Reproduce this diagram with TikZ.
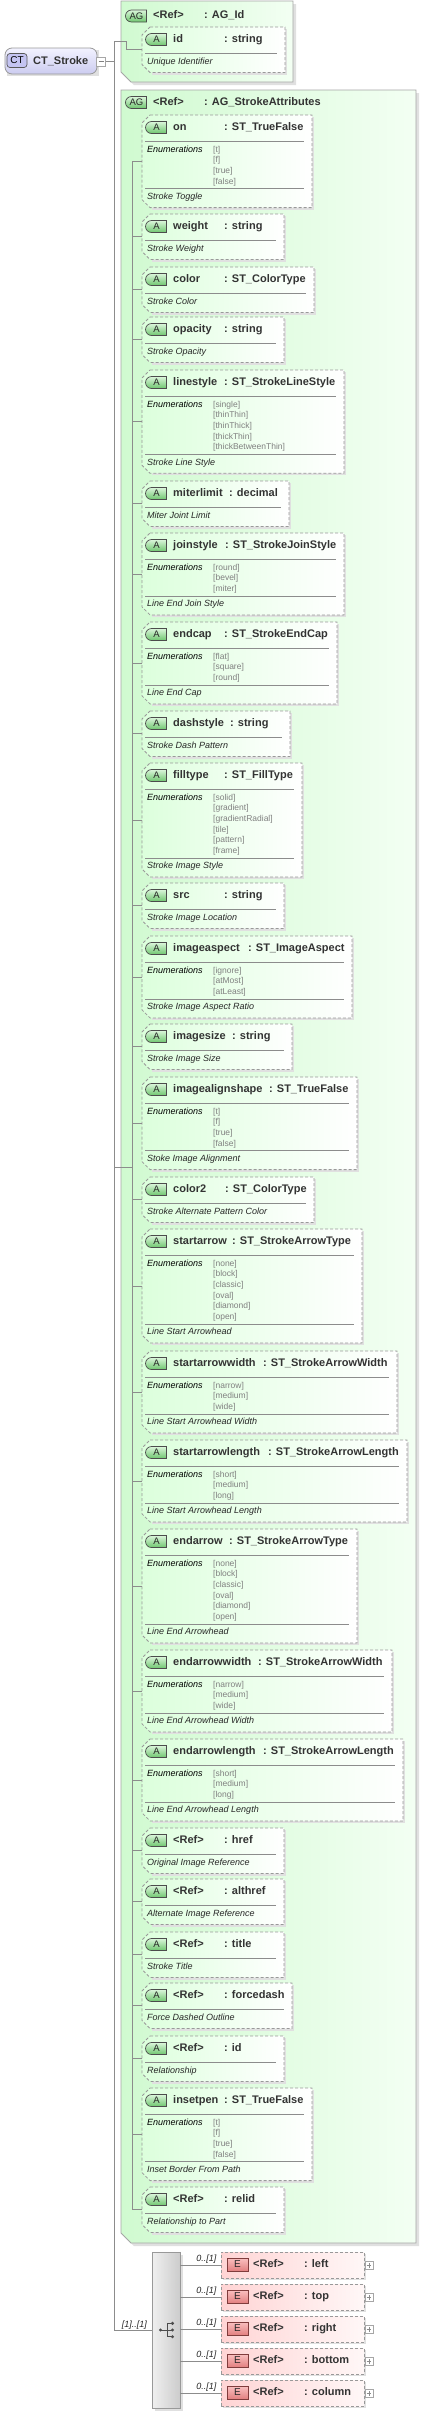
\documentclass[tikz,border=0pt]{standalone}
\usepackage{fontspec}
\setmainfont{Liberation Sans}
\usetikzlibrary{calc,shapes.misc,positioning}

\definecolor{agleft}{RGB}{208,250,208}
\definecolor{agright}{RGB}{243,255,243}
\definecolor{attrleft}{RGB}{220,255,220}
\definecolor{badgetop}{RGB}{218,246,218}
\definecolor{badgebot}{RGB}{110,198,110}
\definecolor{elleft}{RGB}{255,212,212}
\definecolor{elright}{RGB}{255,247,247}
\definecolor{ebadgetop}{RGB}{250,192,192}
\definecolor{ebadgebot}{RGB}{226,128,128}
\definecolor{ebadgeline}{RGB}{128,60,60}
\definecolor{cttop}{RGB}{242,242,255}
\definecolor{ctbot}{RGB}{204,204,240}
\definecolor{ctbadge}{RGB}{196,196,242}

% attribute box: id, top, right, name, colon x, type, no. of enums, enums, doc
\newcommand{\attrbox}[9]{%
  \pgfmathsetmacro{\bxT}{#2}%
  \ifnum#7=0 \pgfmathsetmacro{\bxS}{#2+26.5}%
  \else \pgfmathsetmacro{\bxS}{#2+41.5+(#7-1)*10.7}\fi
  \pgfmathsetmacro{\bxB}{\bxS+19}%
  \pgfmathsetmacro{\bxM}{(\bxT+\bxB)/2}%
  \fill[boxshadow] (152,\bxT+2) -- (#3+2,\bxT+2) -- (#3+2,\bxB+2) -- (152,\bxB+2) -- cycle;
  \path[attrfill] (150,\bxT) -- (#3,\bxT) -- (#3,\bxB) -- (150,\bxB) -- (142,\bxB-8) -- (142,\bxT+8) -- cycle;
  \draw[attrline] (150,\bxT) -- (#3,\bxT) -- (#3,\bxB) -- (150,\bxB) -- (142,\bxB-8) -- (142,\bxT+8) -- cycle;
  \node[badge] (#1-b) at (156.5,\bxT+12.5) {A};
  \node[hdr] (#1-n) at (173,\bxT+15.5) {#4};
  \node[hdr] (#1-t) at (#5,\bxT+15.5) {: #6};
  \draw[sepline] (145,\bxT+26.5) -- (#3-8,\bxT+26.5);
  \ifnum#7>0
    \node[doc,text=black] (#1-e) at (147,\bxT+37) {Enumerations};
    \foreach \v [count=\k from 0] in {#8}
      \node[enumval] at (213,\bxT+37+\k*10.7) {[\v]};
    \draw[sepline] (145,\bxS) -- (#3-8,\bxS);
  \fi
  \node[doc] (#1-d) at (147,\bxS+10.7) {#9};
  \coordinate (#1) at (142,\bxM);
  \coordinate (#1-j) at (132,\bxM);
}

\begin{document}
\begin{tikzpicture}[x=1pt,y=-1pt,
  conn/.style={draw=black!45,line width=0.8pt},
  boxshadow/.style={fill=black!12},
  agshape/.style={left color=agleft,right color=agright,draw=black!35,line width=0.8pt},
  attrfill/.style={left color=attrleft,right color=white},
  attrline/.style={draw=black!40,line width=0.8pt,dash pattern=on 3pt off 2pt},
  sepline/.style={draw=black!45,line width=0.7pt},
  hdr/.style={font=\fontsize{11}{13}\selectfont\bfseries,text=black!80,inner sep=0pt,anchor=base west},
  doc/.style={font=\fontsize{9}{11}\selectfont\itshape,text=black!85,inner sep=0pt,anchor=base west},
  enumval/.style={font=\fontsize{8.5}{10}\selectfont,text=black!50,inner sep=0pt,anchor=base west},
  mult/.style={font=\fontsize{9}{11}\selectfont\itshape,text=black!85,inner sep=0pt,anchor=base east},
  badge/.style={shape=rounded rectangle,rounded rectangle right arc=none,minimum width=21pt,minimum height=12pt,inner sep=0pt,draw=black!70,line width=0.7pt,top color=badgetop,bottom color=badgebot,font=\fontsize{9.5}{10}\selectfont,text=black!85},
  ebadge/.style={rectangle,minimum width=21pt,minimum height=13pt,inner sep=0pt,draw=ebadgeline,line width=0.7pt,top color=ebadgetop,bottom color=ebadgebot,font=\fontsize{10}{10}\selectfont,text=black!85},
  elbox/.style={rectangle,minimum width=143pt,minimum height=26pt,inner sep=0pt,left color=elleft,right color=elright,draw=black!40,line width=0.8pt,dash pattern=on 3pt off 2pt},
  plusbox/.style={rectangle,minimum size=8pt,inner sep=0pt,draw=black!35,fill=white,line width=0.6pt},
  ctbox/.style={rectangle,rounded corners=7pt,minimum width=92pt,minimum height=26pt,inner sep=0pt,top color=cttop,bottom color=ctbot,draw=black!40,line width=0.8pt},
  seqbox/.style={rectangle,minimum width=28pt,minimum height=156pt,inner sep=0pt,left color=black!6,right color=black!20,draw=black!40,line width=0.8pt}
]
\fill[white] (0,0) rectangle (422,2412);
\useasboundingbox (0,0) rectangle (422,2412);

% complex type
\fill[boxshadow] (7,50) rectangle (99,76);
\node[ctbox] (ct) at (51,61) {};
\node[rectangle,rounded corners=3pt,minimum width=20pt,minimum height=14pt,inner sep=0pt,fill=ctbadge,draw=black!65,line width=0.7pt,font=\fontsize{10}{10}\selectfont] (ct-b) at (17,60.5) {CT};
\node[hdr] (ct-n) at (33,64) {CT\_Stroke};
\node[plusbox,minimum size=9pt] (ctminus) at (101,61.5) {};
\draw[black!50,line width=0.6pt] ($(ctminus)+(-2.5,0)$) -- ($(ctminus)+(2.5,0)$);

% trunk
\coordinate (t1) at (114,41.5);
\coordinate (t2) at (114,1167);
\coordinate (t3) at (114,2330);
\draw[conn] (ctminus.east) -- (t1 |- ctminus.east);
\draw[conn] (t1) -- (t3);

% AG_Id
\fill[boxshadow] (124,4) -- (296,4) -- (296,85) -- (134,85) -- (124,75) -- cycle;
\path[agshape] (121,1) -- (293,1) -- (293,82) -- (131,82) -- (121,72) -- cycle;
\node[badge] (ag1-b) at (136.5,16) {AG};
\node[hdr] (ag1-r) at (153,18.5) {<Ref>};
\node[hdr] (ag1-t) at (204,18.5) {: AG\_Id};
\attrbox{agid}{27}{285}{id}{224}{string}{0}{}{Unique Identifier}
\draw[conn] (t1) -- (126,41.5) -- (126,49.75) -- (agid);

% AG_StrokeAttributes
\fill[boxshadow] (124,93) -- (419,93) -- (419,2246) -- (134,2246) -- (124,2236) -- cycle;
\path[agshape] (121,90) -- (416,90) -- (416,2243) -- (131,2243) -- (121,2233) -- cycle;
\node[badge] (ag2-b) at (136.5,102.5) {AG};
\node[hdr] (ag2-r) at (153,105) {<Ref>};
\node[hdr] (ag2-t) at (204,105) {: AG\_StrokeAttributes};

\attrbox{on}{115}{312}{on}{224}{ST\_TrueFalse}{4}{t,f,true,false}{Stroke Toggle}
\attrbox{weight}{214}{284}{weight}{224}{string}{0}{}{Stroke Weight}
\attrbox{color}{267}{314}{color}{224}{ST\_ColorType}{0}{}{Stroke Color}
\attrbox{opacity}{317}{284}{opacity}{224}{string}{0}{}{Stroke Opacity}
\attrbox{linestyle}{370}{344}{linestyle}{224}{ST\_StrokeLineStyle}{5}{single,thinThin,thinThick,thickThin,thickBetweenThin}{Stroke Line Style}
\attrbox{miterlimit}{481}{289}{miterlimit}{229}{decimal}{0}{}{Miter Joint Limit}
\attrbox{joinstyle}{533}{344}{joinstyle}{225}{ST\_StrokeJoinStyle}{3}{round,bevel,miter}{Line End Join Style}
\attrbox{endcap}{622}{337}{endcap}{224}{ST\_StrokeEndCap}{3}{flat,square,round}{Line End Cap}
\attrbox{dashstyle}{711}{290}{dashstyle}{230}{string}{0}{}{Stroke Dash Pattern}
\attrbox{filltype}{763}{302}{filltype}{224}{ST\_FillType}{6}{solid,gradient,gradientRadial,tile,pattern,frame}{Stroke Image Style}
\attrbox{src}{883}{284}{src}{224}{string}{0}{}{Stroke Image Location}
\attrbox{imageaspect}{936}{352}{imageaspect}{248}{ST\_ImageAspect}{3}{ignore,atMost,atLeast}{Stroke Image Aspect Ratio}
\attrbox{imagesize}{1024}{292}{imagesize}{232}{string}{0}{}{Stroke Image Size}
\attrbox{imagealignshape}{1077}{357}{imagealignshape}{269}{ST\_TrueFalse}{4}{t,f,true,false}{Stoke Image Alignment}
\attrbox{color2}{1177}{314}{color2}{225}{ST\_ColorType}{0}{}{Stroke Alternate Pattern Color}
\attrbox{startarrow}{1229}{362}{startarrow}{232}{ST\_StrokeArrowType}{6}{none,block,classic,oval,diamond,open}{Line Start Arrowhead}
\attrbox{startarrowwidth}{1351}{397}{startarrowwidth}{263}{ST\_StrokeArrowWidth}{3}{narrow,medium,wide}{Line Start Arrowhead Width}
\attrbox{startarrowlength}{1440}{407}{startarrowlength}{268}{ST\_StrokeArrowLength}{3}{short,medium,long}{Line Start Arrowhead Length}
\attrbox{endarrow}{1529}{357}{endarrow}{229}{ST\_StrokeArrowType}{6}{none,block,classic,oval,diamond,open}{Line End Arrowhead}
\attrbox{endarrowwidth}{1650}{392}{endarrowwidth}{258}{ST\_StrokeArrowWidth}{3}{narrow,medium,wide}{Line End Arrowhead Width}
\attrbox{endarrowlength}{1739}{403}{endarrowlength}{263}{ST\_StrokeArrowLength}{3}{short,medium,long}{Line End Arrowhead Length}
\attrbox{href}{1828}{284}{<Ref>}{224}{href}{0}{}{Original Image Reference}
\attrbox{althref}{1879}{284}{<Ref>}{224}{althref}{0}{}{Alternate Image Reference}
\attrbox{title}{1932}{284}{<Ref>}{224}{title}{0}{}{Stroke Title}
\attrbox{forcedash}{1983}{292}{<Ref>}{224}{forcedash}{0}{}{Force Dashed Outline}
\attrbox{refid}{2036}{284}{<Ref>}{224}{id}{0}{}{Relationship}
\attrbox{insetpen}{2088}{312}{insetpen}{224}{ST\_TrueFalse}{4}{t,f,true,false}{Inset Border From Path}
\attrbox{relid}{2187}{284}{<Ref>}{224}{relid}{0}{}{Relationship to Part}

% attribute connectors
\draw[conn] (on-j) -- (relid-j);
\draw[conn] (t2) -- (132,1167);
\foreach \a in {on,weight,color,opacity,linestyle,miterlimit,joinstyle,endcap,dashstyle,filltype,src,imageaspect,imagesize,imagealignshape,color2,startarrow,startarrowwidth,startarrowlength,endarrow,endarrowwidth,endarrowlength,href,althref,title,forcedash,refid,insetpen,relid}
  \draw[conn] (\a-j) -- (\a);

% sequence of elements
\fill[boxshadow] (155,2255) rectangle (183,2411);
\node[seqbox] (seq) at (166,2330) {};
\draw[conn] (t3) -- (seq.west);
\node[mult] (seq-m) at (147,2327.5) {[1]..[1]};
\fill[black!70] (160.5,2330) circle (1.7);
\draw[black!70,line width=0.8pt] (160.5,2330) -- (167.5,2330) (167.5,2323.3) -- (167.5,2336.7)
  (167.5,2323.3) -- (172.5,2323.3) (167.5,2336.7) -- (172.5,2336.7) (167.5,2330) -- (172.5,2330);
\foreach \yy in {2323.3,2330,2336.7} \fill[black!70] (172.5,\yy) circle (1.7);

\foreach \el [count=\i from 0] in {left,top,right,bottom,column} {
  \fill[boxshadow] (223,2254+32*\i) rectangle (366,2280+32*\i);
  \node[elbox] (el-\el) at (292.5,2265+32*\i) {};
  \node[ebadge] (el-\el-b) at (237.5,2264.5+32*\i) {E};
  \node[hdr] (el-\el-r) at (253,2267+32*\i) {<Ref>};
  \node[hdr] (el-\el-t) at (304,2267+32*\i) {: \el};
  \node[plusbox] (el-\el-p) at (369,2265.5+32*\i) {};
  \draw[black!45,line width=0.6pt] ($(el-\el-p)+(-2.3,0)$) -- ($(el-\el-p)+(2.3,0)$) ($(el-\el-p)+(0,-2.3)$) -- ($(el-\el-p)+(0,2.3)$);
  \draw[conn] (seq.east |- el-\el.west) -- (el-\el.west);
  \node[mult] (el-\el-m) at ($(el-\el.west)+(-4,-3.5)$) {0..[1]};
}
\end{tikzpicture}
\end{document}
